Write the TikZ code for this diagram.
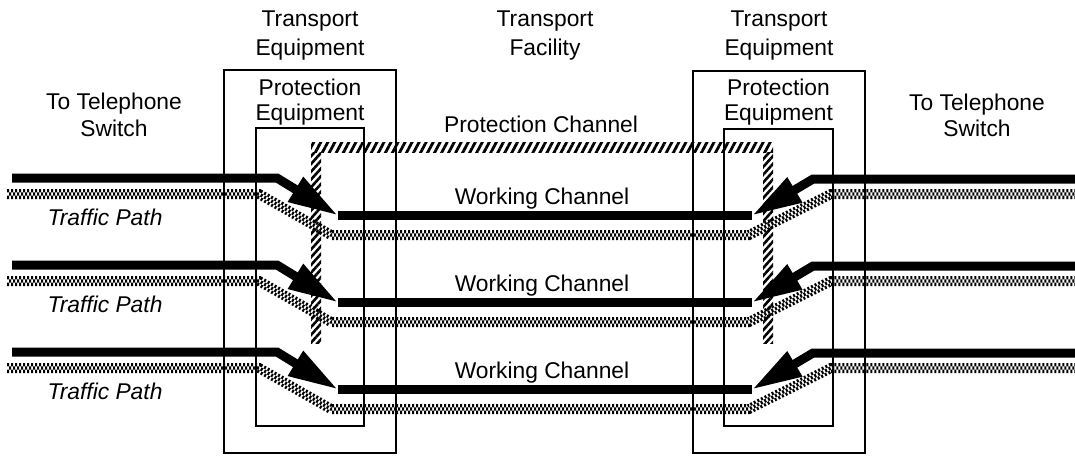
\documentclass[tikz,border=0pt]{standalone}
\usepackage{fontspec}
\setmainfont{Liberation Sans}
\usetikzlibrary{arrows.meta,patterns.meta}
\begin{document}
\begin{tikzpicture}[x=1pt,y=-1pt,
  lbl/.style={font=\fontsize{22.8}{27}\selectfont, inner sep=0pt, anchor=base},
  itl/.style={lbl, font=\fontsize{22.8}{27}\selectfont\itshape},
  boxshape/.style={draw, line width=1.6pt, inner sep=0pt},
  blk/.style={line width=9pt, black},
  arr/.style={blk, -{Triangle[length=50pt,width=27pt]}},
  grayline/.style={line width=10pt, black, dash pattern=on 2pt off 2pt,
    postaction={draw, white, line width=3.4pt, solid},
    postaction={draw, black, line width=3.4pt, dash pattern=on 2pt off 2pt, dash phase=2pt}},
  hatchh/.style={pattern={Lines[angle=62,distance=6.2pt,line width=2.8pt]}, pattern color=black},
  hatchv/.style={pattern={Lines[angle=48,distance=5.2pt,line width=2.6pt]}, pattern color=black}
]
\useasboundingbox (0,0) rectangle (1075,455);

% protection channel (hatched band)
\fill[hatchh] (311,142) rectangle (773,152);
\fill[hatchv] (311,152) rectangle (321,343);
\fill[hatchv] (763,152) rectangle (773,343);

% traffic paths
\foreach \i/\d in {1/0,2/87,3/174}{
  \coordinate (bl\i) at (12,178+\d);
  \coordinate (blb\i) at (277,178+\d);
  \coordinate (wl\i) at (338,215.5+\d);
  \coordinate (wr\i) at (752,215.5+\d);
  \coordinate (brb\i) at (813,179+\d);
  \coordinate (br\i) at (1075,179+\d);
  \coordinate (g0\i) at (7,194+\d);
  \coordinate (g1\i) at (259,194+\d);
  \coordinate (g2\i) at (331,235+\d);
  \coordinate (g3\i) at (749,235+\d);
  \coordinate (g4\i) at (831,194+\d);
  \coordinate (g5\i) at (1075,194+\d);
  \draw[grayline] (g0\i) -- (g1\i) -- (g2\i) -- (g3\i) -- (g4\i) -- (g5\i);
  \draw[blk] (wl\i) -- (wr\i);
  \draw[arr] (bl\i) -- (blb\i) -- (wl\i);
  \draw[arr] (br\i) -- (brb\i) -- (wr\i);
}

% equipment boxes
\node[boxshape, minimum width=172pt, minimum height=383pt] (teq1) at (310,261.5) {};
\node[boxshape, minimum width=108pt, minimum height=298pt] (peq1) at (310,277) {};
\node[boxshape, minimum width=172pt, minimum height=382pt] (teq2) at (779,262) {};
\node[boxshape, minimum width=109pt, minimum height=297pt] (peq2) at (778.5,277.5) {};

% labels
\node[lbl] (te1a) at (310,27) {Transport};
\node[lbl] (te1b) at (310,55) {Equipment};
\node[lbl] (tfa) at (545,27) {Transport};
\node[lbl] (tfb) at (545,55) {Facility};
\node[lbl] (te2a) at (779,27) {Transport};
\node[lbl] (te2b) at (779,55) {Equipment};
\node[lbl] (pe1a) at (310,95) {Protection};
\node[lbl] (pe1b) at (310,120) {Equipment};
\node[lbl] (pe2a) at (778.5,95) {Protection};
\node[lbl] (pe2b) at (778.5,120) {Equipment};
\node[lbl] (ts1a) at (114,109) {To Telephone};
\node[lbl] (ts1b) at (114,136) {Switch};
\node[lbl] (ts2a) at (977,110) {To Telephone};
\node[lbl] (ts2b) at (977,136) {Switch};
\node[lbl] (pc) at (541,132) {Protection Channel};
\node[lbl] (wc1) at (542,204) {Working Channel};
\node[lbl] (wc2) at (542,291) {Working Channel};
\node[lbl] (wc3) at (542,378) {Working Channel};
\node[itl] (tp1) at (105,225) {Traffic Path};
\node[itl] (tp2) at (105,312) {Traffic Path};
\node[itl] (tp3) at (105,399) {Traffic Path};
\end{tikzpicture}
\end{document}
